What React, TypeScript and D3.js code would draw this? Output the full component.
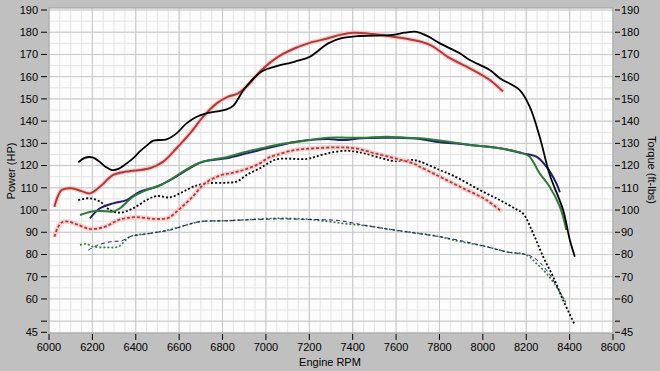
import React from "react";
import * as d3 from "d3";

type P = [number, number];

const xTicks = [6000, 6200, 6400, 6600, 6800, 7000, 7200, 7400, 7600, 7800, 8000, 8200, 8400, 8600];
const yTickLabels = [190, 180, 170, 160, 150, 140, 130, 120, 110, 100, 90, 80, 70, 60, 45];
const yUnlabeledTicks = [50];

const blackPower: P[] = [[6135,121.5],[6165,123.5],[6200,123.7],[6230,122],[6260,119.5],[6290,118],[6320,118.5],[6358,121],[6390,123.5],[6420,126.5],[6450,129],[6481,131.2],[6542,131.8],[6588,134.5],[6634,139],[6681,142],[6727,143.5],[6819,145.3],[6850,147],[6903,154.8],[6980,162.3],[7041,164.5],[7134,166.8],[7203,169],[7287,175],[7349,177.3],[7433,178.3],[7587,178.8],[7640,179.8],[7694,180.2],[7750,178],[7802,175],[7894,170.5],[7940,167.5],[8032,163],[8078,159.3],[8170,154],[8216,146.5],[8262,133],[8308,116],[8370,100],[8401,86.5],[8424,79]];
const redPower: P[] = [[6025,101.5],[6040,106],[6058,109],[6105,109.8],[6150,108.5],[6189,107.5],[6235,110.5],[6296,115.8],[6358,117.3],[6465,118.8],[6527,121.8],[6588,127.8],[6650,134.5],[6711,142],[6773,148],[6826,151],[6872,152.5],[6918,156.3],[6980,163],[7057,169],[7134,172.8],[7195,175],[7287,177.3],[7341,178.8],[7402,179.8],[7494,179.2],[7587,178],[7679,176.5],[7756,174.3],[7848,168.3],[7955,163],[8032,158.5],[8093,153.3]];
const navyPower: P[] = [[6189,96.3],[6235,100.8],[6296,103],[6358,104.5],[6419,108.3],[6496,110.5],[6573,114.3],[6634,118],[6711,121.8],[6819,123.3],[6911,125.5],[6972,127],[7034,128.5],[7126,130.5],[7200,131.5],[7287,132],[7349,131.5],[7441,132.3],[7556,132.5],[7594,132.5],[7710,132],[7802,130.5],[7894,129.8],[7940,129.3],[8078,127.8],[8185,125.5],[8247,124],[8293,119.5],[8339,112],[8355,108]];
const greenPower: P[] = [[6143,97.8],[6204,99.5],[6260,99.5],[6296,99.3],[6327,100.8],[6388,106],[6450,109],[6520,111.5],[6573,114.5],[6634,118.3],[6700,121.5],[6826,124],[6900,126],[6980,127.8],[7060,129.5],[7134,130.5],[7200,131.5],[7287,132.5],[7340,132.6],[7441,132.5],[7556,133],[7650,132.5],[7710,132.3],[7802,131.3],[7894,130],[7940,129.3],[8078,127.8],[8185,125.5],[8216,124],[8262,116.5],[8308,110.5],[8355,101.5],[8385,91]];
const blackTorque: P[] = [[6135,104.5],[6189,105.3],[6235,103.8],[6281,100],[6327,98.8],[6388,100.8],[6450,104.5],[6496,106.3],[6558,105.7],[6619,108.3],[6665,110.5],[6727,112],[6819,112.3],[6865,112.8],[6911,115.8],[6972,118.8],[7049,122.8],[7188,123],[7257,124.8],[7318,126.2],[7379,126.7],[7418,126.2],[7456,125.5],[7533,123.3],[7594,122],[7679,122.5],[7710,121.8],[7802,118],[7863,115.5],[7986,109],[8078,104.5],[8155,100.3],[8185,98.5],[8232,89.5],[8278,79],[8324,70],[8370,59.5],[8424,48.3]];
const redTorque: P[] = [[6025,88],[6040,92],[6060,94.5],[6090,94.8],[6135,93.3],[6189,91.5],[6258,92.5],[6319,95.5],[6396,96.8],[6488,96],[6550,96.5],[6596,100],[6657,105.5],[6719,112],[6788,115.5],[6850,116.8],[6911,118.5],[6972,121],[7011,123.5],[7049,124.8],[7134,127],[7226,127.8],[7333,128.2],[7410,127.8],[7502,125.5],[7594,123.3],[7679,121],[7710,119.5],[7771,116.5],[7802,115],[7894,110.5],[8017,104.5],[8086,99.3]];
const navyTorque: P[] = [[6181,82],[6227,84.3],[6289,85.8],[6335,86.2],[6373,88],[6465,89.5],[6558,91],[6634,93.3],[6696,94.8],[6819,95.2],[6972,95.8],[7065,96],[7180,95.8],[7333,95.3],[7410,94],[7502,92.3],[7594,91],[7710,89.3],[7802,88],[7894,86.3],[8017,83.5],[8109,81.2],[8216,79.5],[8262,76.5],[8308,71],[8339,66],[8355,63]];
const greenTorque: P[] = [[6143,84.3],[6170,84.8],[6204,83.5],[6266,83.2],[6319,83.5],[6373,88],[6465,89.5],[6558,91.2],[6634,93.3],[6696,94.8],[6819,95.2],[6972,96],[7065,96.3],[7203,95.8],[7356,94],[7500,92.5],[7587,91],[7710,89.5],[7802,88],[7863,86.5],[8017,83.5],[8109,81.2],[8201,79.8],[8247,76],[8293,71.5],[8339,65.5],[8385,58]];

const W = 660, H = 371;
const L = 49, R = 613, T = 8, B = 333;
const FONT = "'Liberation Sans', Arial, sans-serif";

export default function App() {
  const x = d3.scaleLinear().domain([6000, 8600]).range([L, R]);
  const y = d3.scaleLinear().domain([45, 190]).range([332.3, 10]);
  const line = d3.line<P>().x(d => x(d[0])).y(d => y(d[1])).curve(d3.curveCatmullRom.alpha(0.5));

  const minorX = d3.range(6000, 8601, 50);
  const minorY = d3.range(45, 191, 5);
  const majorY = d3.range(50, 191, 10);

  const series = [
    { d: greenTorque, c: "#2f7a3a", w: 1.6, dash: "2,2" },
    { d: navyTorque, c: "#1c1f6e", w: 1, dash: "4,3" },
    { d: blackTorque, c: "#000", w: 1.8, dash: "2,2" },
    { d: redTorque, c: "#b03a3a", w: 1.8, dash: "3,2", halo: true },
    { d: navyPower, c: "#1c1f6e", w: 2, dash: null },
    { d: greenPower, c: "#2f7a3a", w: 2, dash: null },
    { d: redPower, c: "#b03a3a", w: 2, dash: null, halo: true },
    { d: blackPower, c: "#000", w: 1.8, dash: null },
  ];

  return (
    <svg width={W} height={H} style={{ position: "fixed", left: 0, top: 0 }} fontFamily={FONT}>
      <rect x={0} y={0} width={W} height={H} fill="#c0c0c0" />
      <rect x={L} y={T} width={R - L} height={B - T} fill="#fcfcfc" />
      {minorX.map(v => (
        <line key={"mx" + v} x1={x(v)} x2={x(v)} y1={T} y2={B} stroke="#e4e4e4" strokeWidth={1} />
      ))}
      {minorY.map(v => (
        <line key={"my" + v} x1={L} x2={R} y1={y(v)} y2={y(v)} stroke="#e4e4e4" strokeWidth={1} />
      ))}
      {xTicks.map(v => (
        <line key={"Mx" + v} x1={x(v)} x2={x(v)} y1={T} y2={B} stroke="#c8c8c8" strokeWidth={1} />
      ))}
      {majorY.map(v => (
        <line key={"My" + v} x1={L} x2={R} y1={y(v)} y2={y(v)} stroke="#c8c8c8" strokeWidth={1} />
      ))}
      <rect x={L} y={T} width={R - L} height={B - T} fill="none" stroke="#a0a0a0" strokeWidth={1} />

      {series.map((s, i) => (
        <g key={i}>
          {s.halo && <path d={line(s.d) || ""} fill="none" stroke="#f4c0c0" strokeWidth={4.5} strokeLinejoin="round" opacity={0.75} />}
          <path d={line(s.d) || ""} fill="none" stroke={s.c} strokeWidth={s.w} strokeDasharray={s.dash || undefined} strokeLinejoin="round" />
        </g>
      ))}

      {yTickLabels.concat(yUnlabeledTicks).map(v => (
        <line key={"lt" + v} x1={41} x2={47} y1={y(v)} y2={y(v)} stroke="#000" strokeWidth={1} />
      ))}
      {yTickLabels.map(v => (
        <text key={"ll" + v} x={38} y={y(v)} dy="0.35em" textAnchor="end" fontSize={11} fill="#000">{v}</text>
      ))}
      {yTickLabels.concat(yUnlabeledTicks).map(v => (
        <line key={"rt" + v} x1={615} x2={620} y1={y(v)} y2={y(v)} stroke="#000" strokeWidth={1} />
      ))}
      {yTickLabels.map(v => (
        <text key={"rl" + v} x={621} y={y(v)} dy="0.35em" textAnchor="start" fontSize={11} fill="#000">{v}</text>
      ))}
      {xTicks.map(v => (
        <g key={"bx" + v}>
          <line x1={x(v)} x2={x(v)} y1={334} y2={340} stroke="#000" strokeWidth={1} />
          <text x={x(v)} y={351} textAnchor="middle" fontSize={11} fill="#000">{v}</text>
        </g>
      ))}
      <text x={330} y={366} textAnchor="middle" fontSize={11} fill="#000">Engine RPM</text>
      <text transform={`translate(15,171) rotate(-90)`} textAnchor="middle" fontSize={11} fill="#000">Power (HP)</text>
      <text transform={`translate(648,170) rotate(90)`} textAnchor="middle" fontSize={11} fill="#000">Torque (ft-lbs)</text>
    </svg>
  );
}
